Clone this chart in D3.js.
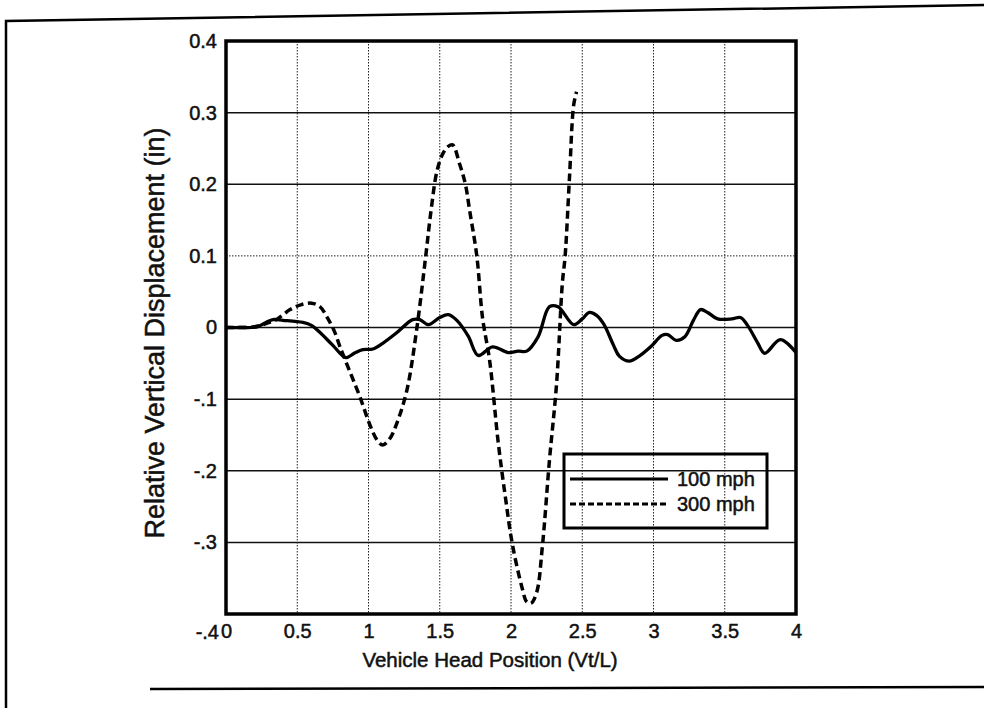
<!DOCTYPE html>
<html>
<head>
<meta charset="utf-8">
<script src="https://cdn.jsdelivr.net/npm/d3@7/dist/d3.min.js"></script>
<style>
  html, body { margin: 0; padding: 0; background: #fff; }
  svg { display: block; }
  text { font-family: "Liberation Sans", Arial, sans-serif; fill: #111; stroke: #111; stroke-width: 0.5px; }
</style>
</head>
<body>
<svg id="chart" width="984" height="708"></svg>
<script>
// Vehicle head position (Vt/L) and relative vertical displacement (in)
const pos100 = [0, 0.1, 0.22, 0.28, 0.33, 0.40, 0.54, 0.60, 0.66, 0.75, 0.84, 0.90, 0.96, 1.03, 1.10, 1.20,
  1.31, 1.36, 1.42, 1.50, 1.56, 1.62, 1.70, 1.77, 1.87, 1.98, 2.05, 2.11, 2.19, 2.27, 2.33, 2.44, 2.50,
  2.55, 2.60, 2.65, 2.72, 2.76, 2.83, 2.90, 2.98, 3.06, 3.10, 3.16, 3.22, 3.28, 3.33, 3.38, 3.45, 3.55,
  3.61, 3.66, 3.73, 3.78, 3.89, 4.00];
const disp100 = [0, 0, 0.001, 0.007, 0.011, 0.010, 0.007, 0.003, -0.007, -0.025, -0.042, -0.036, -0.031, -0.030, -0.022, -0.007,
  0.011, 0.011, 0.004, 0.014, 0.018, 0.010, -0.012, -0.039, -0.027, -0.035, -0.033, -0.033, -0.013, 0.029, 0.029, 0.004, 0.012,
  0.021, 0.017, 0.005, -0.025, -0.040, -0.047, -0.040, -0.027, -0.011, -0.010, -0.018, -0.013, 0.010, 0.025, 0.021, 0.012, 0.012,
  0.014, 0.003, -0.021, -0.036, -0.017, -0.035];

const pos300 = [0, 0.2, 0.30, 0.36, 0.45, 0.53, 0.60, 0.66, 0.71, 0.76, 0.80, 0.87, 0.94, 1.01, 1.06, 1.10, 1.15,
  1.20, 1.27, 1.34, 1.40, 1.44, 1.48, 1.52, 1.56, 1.59, 1.64, 1.68, 1.71, 1.76, 1.80, 1.85, 1.91, 1.96,
  2.01, 2.08, 2.11, 2.14, 2.18, 2.22, 2.27, 2.32, 2.36, 2.38, 2.41, 2.44, 2.46];
const disp300 = [0, 0.001, 0.007, 0.012, 0.025, 0.032, 0.034, 0.029, 0.014, -0.005, -0.027, -0.062, -0.097, -0.136, -0.157, -0.164, -0.155,
  -0.133, -0.087, 0.000, 0.097, 0.165, 0.218, 0.242, 0.253, 0.255, 0.228, 0.200, 0.163, 0.100, 0.014, -0.046, -0.160, -0.236,
  -0.303, -0.365, -0.383, -0.385, -0.370, -0.306, -0.185, -0.078, 0.061, 0.100, 0.208, 0.311, 0.329];

const xTicks = [0, 0.5, 1, 1.5, 2, 2.5, 3, 3.5, 4];
const xTickLabels = ["0", "0.5", "1", "1.5", "2", "2.5", "3", "3.5", "4"];
const yTicks = [0.4, 0.3, 0.2, 0.1, 0, -0.1, -0.2, -0.3, -0.4];
const yTickLabels = ["0.4", "0.3", "0.2", "0.1", "0", "-.1", "-.2", "-.3", "-.4"];
const dottedRows = [0.1];

const seriesNames = ["100 mph", "300 mph"];

const svg = d3.select("#chart");
const plot = { left: 226, right: 796, top: 41, bottom: 614 };

const x = d3.scaleLinear().domain([0, 4]).range([plot.left, plot.right]);
const y = d3.scaleLinear().domain([-0.4, 0.4]).range([plot.bottom, plot.top]);

// outer page frame
svg.append("path")
  .attr("d", "M6,708 L6,21 L984,5")
  .attr("fill", "none").attr("stroke", "#000").attr("stroke-width", 2.5);
svg.append("path")
  .attr("d", "M150,689 L984,687")
  .attr("fill", "none").attr("stroke", "#000").attr("stroke-width", 2.5);

// vertical grid (dotted)
svg.append("g").selectAll("line")
  .data(xTicks.filter(d => d > 0 && d < 4))
  .join("line")
  .attr("x1", d => x(d)).attr("x2", d => x(d))
  .attr("y1", plot.top).attr("y2", plot.bottom)
  .attr("stroke", "#222").attr("stroke-width", 1).attr("stroke-dasharray", "1.5,1.5");

// horizontal grid
svg.append("g").selectAll("line")
  .data(yTicks.filter(d => d > -0.4 && d < 0.4))
  .join("line")
  .attr("x1", plot.left).attr("x2", plot.right)
  .attr("y1", d => y(d)).attr("y2", d => y(d))
  .attr("stroke", d => dottedRows.includes(d) ? "#222" : "#111")
  .attr("stroke-width", d => dottedRows.includes(d) ? 1 : 1.5)
  .attr("stroke-dasharray", d => dottedRows.includes(d) ? "1.5,1.5" : null);

// axes tick labels
const xAxis = d3.axisBottom(x).tickValues(xTicks)
  .tickFormat((d, i) => xTickLabels[i]).tickSize(0).tickPadding(10);
const gx = svg.append("g").attr("transform", `translate(0,${plot.bottom})`).call(xAxis);
gx.select(".domain").remove();
gx.selectAll("text").attr("font-size", 20).attr("font-family", "Liberation Sans, Arial, sans-serif").attr("fill", "#111");

const yAxis = d3.axisLeft(y).tickValues(yTicks)
  .tickFormat((d, i) => yTickLabels[i]).tickSize(0).tickPadding(9);
const gy = svg.append("g").attr("transform", `translate(${plot.left},0)`).call(yAxis);
gy.select(".domain").remove();
gy.selectAll("text").attr("font-size", 20).attr("font-family", "Liberation Sans, Arial, sans-serif").attr("fill", "#111");
// bottom label sits on the same line as the horizontal tick labels
gy.selectAll(".tick").filter(d => d === -0.4).select("text")
  .attr("dy", "0.71em").attr("y", 10).attr("x", -7);

// curves
const line = d3.line().x(d => x(d[0])).y(d => y(d[1])).curve(d3.curveCatmullRom.alpha(0.5));
const data100 = pos100.map((p, i) => [p, disp100[i]]);
const data300 = pos300.map((p, i) => [p, disp300[i]]);

svg.append("path").datum(data100)
  .attr("d", line).attr("fill", "none").attr("stroke", "#000")
  .attr("stroke-width", 3.3).attr("stroke-linejoin", "round");
svg.append("path").datum(data300)
  .attr("d", line).attr("fill", "none").attr("stroke", "#000")
  .attr("stroke-width", 3.5).attr("stroke-dasharray", "8,4.5");

// plot frame
svg.append("rect")
  .attr("x", plot.left).attr("y", plot.top)
  .attr("width", plot.right - plot.left).attr("height", plot.bottom - plot.top)
  .attr("fill", "none").attr("stroke", "#000").attr("stroke-width", 3.5);

// legend
const lg = svg.append("g");
lg.append("rect").attr("x", 564).attr("y", 454).attr("width", 203).attr("height", 74)
  .attr("fill", "none").attr("stroke", "#000").attr("stroke-width", 3);
const legendRows = [{ dash: null }, { dash: "6,3" }];
legendRows.forEach((r, i) => {
  const ly = 479 + i * 25;
  lg.append("line").attr("x1", 570).attr("x2", 668).attr("y1", ly).attr("y2", ly)
    .attr("stroke", "#000").attr("stroke-width", 3).attr("stroke-dasharray", r.dash);
  lg.append("text").attr("x", 677).attr("y", ly + 7).attr("font-size", 20).text(seriesNames[i]);
});

// axis titles
svg.append("text")
  .attr("x", 490).attr("y", 667)
  .attr("text-anchor", "middle").attr("font-size", 20.5)
  .text("Vehicle Head Position (Vt/L)");
svg.append("text")
  .attr("transform", "translate(164,333) rotate(-90)")
  .attr("text-anchor", "middle").attr("font-size", 27)
  .text("Relative Vertical Displacement (in)");
</script>
</body>
</html>
